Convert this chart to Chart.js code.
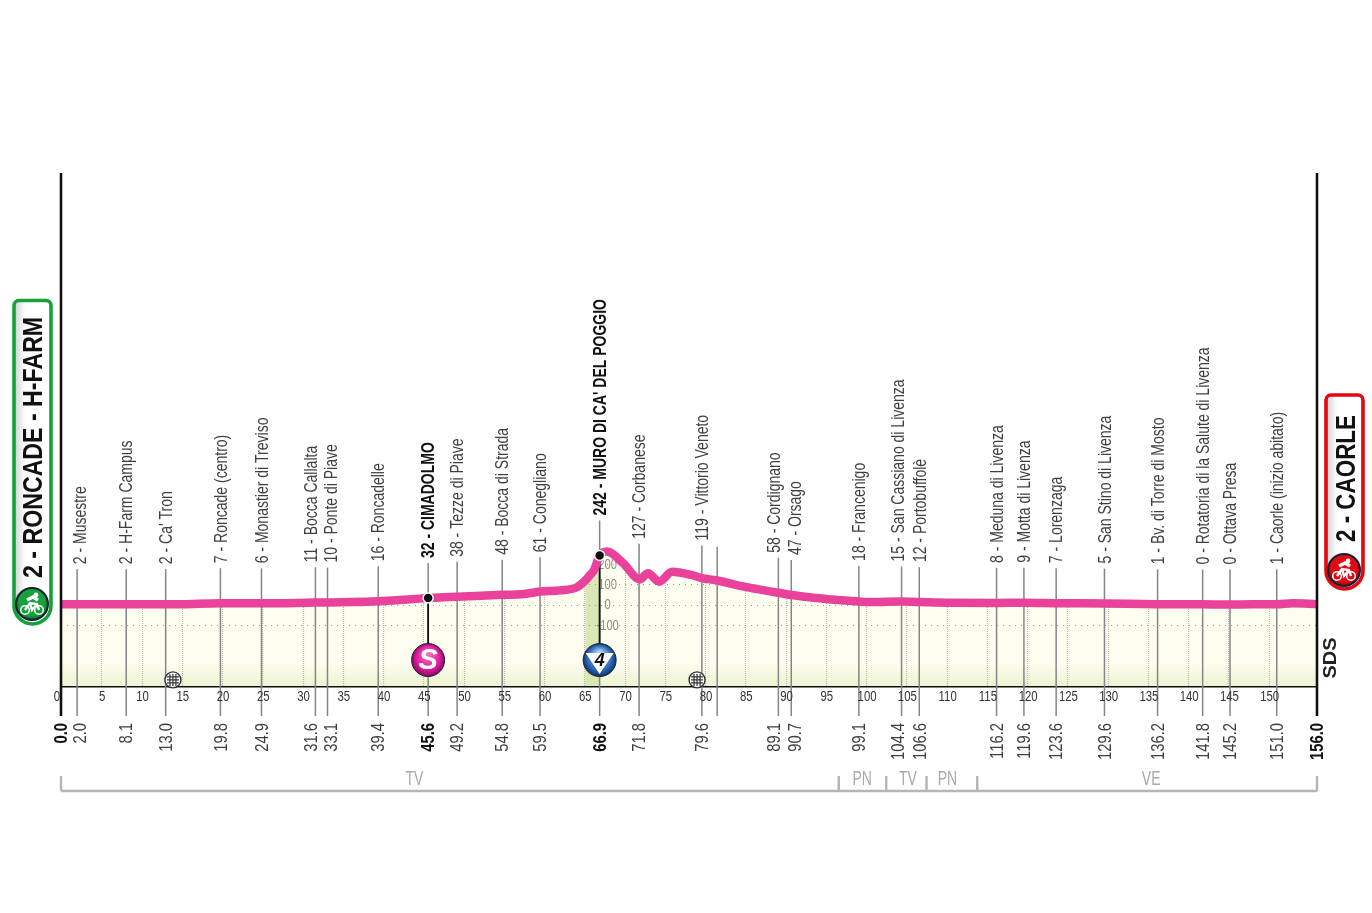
<!DOCTYPE html>
<html><head><meta charset="utf-8">
<style>html,body{margin:0;padding:0;background:#fff}canvas{display:block}</style>
<script src="https://cdn.jsdelivr.net/npm/chart.js@4/dist/chart.umd.min.js"></script>
</head><body><canvas id="c" width="1372" height="913"></canvas>
<script>
const profileKm=[0,5,10,15,19.8,25,31.6,36,39.4,43,45.6,47,49.2,54.8,57.5,59.5,62,64,65.1,65.7,66.2,66.9,67.8,69.8,71.9,72.9,74.3,75.9,78.3,79.6,81.4,83.9,86.5,89.1,90.7,93.9,96.5,99.1,101,102.5,104.4,106.6,110,116.2,119.6,123.6,129.6,136.2,141.8,145.2,148,151,153,155,156];
const profileAlt=[2,2,1,2,7,6,10,12,16,25,32,35,38,48,52,64,70,84,118,145,170,242,262,205,124,155,113,162,146,130,120,96,76,58,47,32,22,15,12,14,15,12,9,8,9,7,5,2,1,0,1,1,6,4,2];
const climbStartKm=65.1, climbEndKm=66.9;
const placeKm=[2.0,8.1,13.0,19.8,24.9,31.6,33.1,39.4,45.6,49.2,54.8,59.5,66.9,71.8,79.6,89.1,90.7,99.1,104.4,106.6,116.2,119.6,123.6,129.6,136.2,141.8,145.2,151.0];
const placeAlt=[2,2,2,7,6,11,10,16,32,38,48,61,242,127,119,58,47,18,15,12,8,9,7,5,1,0,0,1];
const placeNames=["Musestre","H-Farm Campus","Ca' Tron","Roncade (centro)","Monastier di Treviso","Bocca Callalta","Ponte di Piave","Roncadelle","CIMADOLMO","Tezze di Piave","Bocca di Strada","Conegliano","MURO DI CA' DEL POGGIO","Corbanese","Vittorio Veneto","Cordignano","Orsago","Francenigo","San Cassiano di Livenza","Portobuffolè","Meduna di Livenza","Motta di Livenza","Lorenzaga","San Stino di Livenza","Bv. di Torre di Mosto","Rotatoria di la Salute di Livenza","Ottava Presa","Caorle (inizio abitato)"];
const highlightedKm=[45.6,66.9];
const unlabelledKm=[81.5], unlabelledAlt=[113];
const endKm=[0,156];
const elevationTicks=[200,100,0,-100];
const feedKm=[13.9,79.0];
const regionBreaks=[0,96.6,102.5,107.5,113.8,156];
const regionNames=["TV","PN","TV","PN","VE"];
const regionLabelKm=[43.9,99.5,105.2,110.1,135.4];
const startTitle="2 - RONCADE - H-FARM", finishTitle="2 - CAORLE", logoText="SDS";

const WIDE='"Liberation Sans",Arial,sans-serif';
const nudge={2:3,31.6:-5,33.1:3,89.1:-5,90.7:4,104.4:-4};
const AX_EXT=30, LINE_RISE=35, MARK_ALT=-274, FEED_ALT=-372;

function vText(ctx,t,x,y,o){ctx.save();ctx.translate(x,y);ctx.rotate(-Math.PI/2);ctx.scale(o.sx||1,1);
  ctx.font=(o.bold?'bold ':'')+o.size+'px '+WIDE;ctx.fillStyle=o.color||'#333';ctx.textAlign=o.align||'left';ctx.textBaseline='middle';ctx.fillText(t,0,1);ctx.restore();}
function hText(ctx,t,x,y,size,sx,color){ctx.save();ctx.translate(x,y);ctx.scale(sx,1);ctx.font=size+'px '+WIDE;ctx.fillStyle=color;ctx.textAlign='center';ctx.textBaseline='middle';ctx.fillText(t,0,0);ctx.restore();}
function bike(ctx,cx,cy,col){ctx.save();ctx.translate(cx,cy);ctx.strokeStyle=col;ctx.fillStyle=col;ctx.lineWidth=1.6;
  [[-7,5],[7,5]].forEach(p=>{ctx.beginPath();ctx.arc(p[0],p[1],4.3,0,7);ctx.stroke();});
  ctx.lineWidth=2.4;ctx.beginPath();ctx.moveTo(-7,5);ctx.lineTo(-2,-2);ctx.lineTo(5,-1);ctx.lineTo(7,5);ctx.moveTo(-2,-2);ctx.lineTo(0,5);ctx.lineTo(5,-1);ctx.stroke();
  ctx.beginPath();ctx.moveTo(-5,-5);ctx.lineTo(1,-8);ctx.lineTo(6,-5);ctx.lineWidth=3.4;ctx.stroke();
  ctx.beginPath();ctx.arc(4,-10,2.4,0,7);ctx.fill();ctx.restore();}
function badge(ctx,x0,y0,x1,y1,col,dark,title,tx,ty,size,sx,ix,iy){
  const g=ctx.createLinearGradient(x0,0,x1,0);g.addColorStop(0,'#cfcfcf');g.addColorStop(.3,'#fff');g.addColorStop(1,'#fff');
  ctx.beginPath();ctx.roundRect(x0,y0,x1-x0,y1-y0,[5,5,(x1-x0)/2,(x1-x0)/2]);ctx.fillStyle=g;ctx.fill();ctx.lineWidth=3.6;ctx.strokeStyle=col;ctx.stroke();
  vText(ctx,title,tx,ty,{size,bold:true,color:'#111',sx});
  const r=ctx.createRadialGradient(ix,iy-6,2,ix,iy,17);r.addColorStop(0,col);r.addColorStop(.75,col);r.addColorStop(1,dark);
  ctx.beginPath();ctx.arc(ix,iy,16,0,7);ctx.fillStyle=r;ctx.fill();ctx.lineWidth=2;ctx.strokeStyle='#123';ctx.stroke();
  bike(ctx,ix,iy+1,'#fff');}

const underlay={id:'underlay',
 afterDatasetDraw(chart,args){ if(args.index!==1) return;
  const {ctx,scales:{x,y},chartArea:a}=chart;
  ctx.save();ctx.beginPath();ctx.moveTo(x.getPixelForValue(profileKm[0]),a.bottom);
  profileKm.forEach((k,i)=>ctx.lineTo(x.getPixelForValue(k),y.getPixelForValue(profileAlt[i])));
  ctx.lineTo(x.getPixelForValue(156),a.bottom);ctx.closePath();ctx.clip();
  ctx.setLineDash([1,1]);ctx.lineWidth=1.2;ctx.strokeStyle='rgba(160,160,145,.7)';
  x.ticks.forEach(t=>{if(t.value===0)return;const p=Math.round(x.getPixelForValue(t.value))+.5;ctx.beginPath();ctx.moveTo(p,a.top);ctx.lineTo(p,a.bottom);ctx.stroke();});
  ctx.setLineDash([1,5]);ctx.lineWidth=1.2;ctx.strokeStyle='#999';
  elevationTicks.forEach(v=>{const p=Math.round(y.getPixelForValue(v))+.5;ctx.beginPath();ctx.moveTo(a.left,p);ctx.lineTo(a.right,p);ctx.stroke();});
  ctx.setLineDash([]);ctx.restore();
  ctx.save();
  elevationTicks.forEach(v=>hText(ctx,String(v),x.getPixelForValue(66.9)+8,y.getPixelForValue(v)+1,14,.8,'#8d8d84'));
  const base=a.bottom+AX_EXT;
  const lines=placeKm.map((k,i)=>[k,placeAlt[i]]).concat(unlabelledKm.map((k,i)=>[k,unlabelledAlt[i]]));
  ctx.lineWidth=1.5;ctx.strokeStyle='#858585';
  lines.forEach(([k,al])=>{const p=x.getPixelForValue(k);ctx.beginPath();ctx.moveTo(p,y.getPixelForValue(al)-LINE_RISE);ctx.lineTo(p,base);ctx.stroke();});
  ctx.strokeStyle='#111';ctx.lineWidth=1.8;
  highlightedKm.forEach(k=>{const i=placeKm.indexOf(k),p=x.getPixelForValue(k);ctx.beginPath();ctx.moveTo(p,y.getPixelForValue(placeAlt[i]));ctx.lineTo(p,y.getPixelForValue(MARK_ALT));ctx.stroke();});
  ctx.restore();
 },
 afterDraw(chart){
  const {ctx,scales:{x,y},chartArea:a}=chart; const base=a.bottom+AX_EXT;
  ctx.save();
  ctx.strokeStyle='#111';ctx.lineWidth=2.6;
  endKm.forEach(k=>{const p=x.getPixelForValue(k);ctx.beginPath();ctx.moveTo(p,a.top);ctx.lineTo(p,base);ctx.stroke();});
  x.ticks.forEach(t=>hText(ctx,String(t.value),x.getPixelForValue(t.value)+(t.value===0?-4:1),a.bottom+11,15,.76,'#333'));
  placeNames.forEach((n,i)=>{const k=placeKm[i],al=placeAlt[i],px=x.getPixelForValue(k)+(nudge[k]||0),hi=highlightedKm.includes(k);
    vText(ctx,al+' - '+n,px,y.getPixelForValue(al)-LINE_RISE-5,{size:19,sx:.737,bold:hi,color:hi?'#111':'#3f3f3f'});
    vText(ctx,k.toFixed(1),px,a.bottom+37,{size:19,sx:.78,bold:hi,align:'right',color:hi?'#111':'#3f3f3f'});});
  endKm.forEach(k=>vText(ctx,k.toFixed(1),x.getPixelForValue(k),a.bottom+37,{size:19,sx:.78,bold:true,align:'right',color:'#111'}));
  const mk=(km,c0,c1,c2)=>{const p=x.getPixelForValue(km),q=y.getPixelForValue(MARK_ALT);
    const g=ctx.createRadialGradient(p,q-7,2,p,q,17);g.addColorStop(0,c0);g.addColorStop(.7,c1);g.addColorStop(1,c2);
    ctx.beginPath();ctx.arc(p,q,16.5,0,7);ctx.fillStyle=g;ctx.fill();ctx.lineWidth=1;ctx.strokeStyle='#222';ctx.stroke();return [p,q];};
  let [p,q]=mk(highlightedKm[0],'#f26bc0','#d8189a','#7d0a5c');
  ctx.font='italic bold 29px '+WIDE;ctx.textAlign='center';ctx.textBaseline='middle';ctx.fillStyle='#fff';ctx.fillText('S',p,q+1);
  [p,q]=mk(highlightedKm[1],'#a9d3f2','#2a66b4','#0d2f68');
  ctx.beginPath();ctx.moveTo(p-14,q-7);ctx.lineTo(p+14,q-7);ctx.lineTo(p,q+14);ctx.closePath();ctx.fillStyle='#fff';ctx.fill();
  ctx.font='italic bold 18px '+WIDE;ctx.fillStyle='#111';ctx.fillText('4',p,q+1);
  feedKm.forEach(k=>{const fx=x.getPixelForValue(k),fy=y.getPixelForValue(FEED_ALT);
    ctx.beginPath();ctx.arc(fx,fy,8,0,7);ctx.fillStyle='#fff';ctx.fill();ctx.lineWidth=1.4;ctx.strokeStyle='#333';ctx.stroke();
    ctx.lineWidth=1.2;ctx.beginPath();
    [-3,0,3].forEach(d=>{ctx.moveTo(fx+d,fy-6);ctx.lineTo(fx+d,fy+6);});
    [-3,0,3].forEach(d=>{ctx.moveTo(fx-6,fy+d);ctx.lineTo(fx+6,fy+d);});ctx.stroke();});
  const ry=a.bottom+105;ctx.strokeStyle='#b5b5b5';ctx.lineWidth=2.4;ctx.beginPath();
  ctx.moveTo(x.getPixelForValue(0),ry);ctx.lineTo(x.getPixelForValue(156),ry);
  regionBreaks.forEach(k=>{const b=x.getPixelForValue(k);ctx.moveTo(b,ry);ctx.lineTo(b,ry-15);});ctx.stroke();
  regionNames.forEach((n,i)=>hText(ctx,n,x.getPixelForValue(regionLabelKm[i]),ry-12,20,.7,'#a8a8a8'));
  vText(ctx,logoText,x.getPixelForValue(156)+13,a.bottom-28,{size:19,bold:true,color:'#222',align:'center',sx:1.05});
  badge(ctx,14,300.5,51,624,'#18a03c','#0a4d1c',startTitle,33,578,28,.827,32,604);
  badge(ctx,1326,395,1363,589,'#e30613','#7d0208',finishTitle,1346,542,28,.80,1344,570);
  ctx.restore();
 }};

const toXY=(xs,ys)=>xs.map((k,i)=>({x:k,y:ys[i]}));
const profile=toXY(profileKm,profileAlt);
const ctx0=document.getElementById('c').getContext('2d');
const fillG=ctx0.createLinearGradient(0,173,0,686);
fillG.addColorStop(0,'#fdfdf0');fillG.addColorStop(.955,'#fdfdf0');fillG.addColorStop(1,'#edf3d2');
new Chart(ctx0,{type:'line',
 data:{datasets:[
  {data:profile,order:3,borderWidth:0,pointRadius:0,backgroundColor:fillG,fill:{value:-402},cubicInterpolationMode:'monotone'},
  {data:profile.filter(p=>p.x>=climbStartKm&&p.x<=climbEndKm),order:2,borderWidth:0,borderColor:'rgba(0,0,0,0)',pointRadius:0,backgroundColor:'#d9e8b4',fill:{value:-402},cubicInterpolationMode:'monotone'},
  {data:profile,order:1,borderColor:'#e8429b',borderWidth:8.5,pointRadius:0,fill:false,cubicInterpolationMode:'monotone',borderCapStyle:'butt'},
  {data:highlightedKm.map(k=>({x:k,y:placeAlt[placeKm.indexOf(k)]})),order:0,showLine:false,pointRadius:5,pointBackgroundColor:'#111',pointBorderColor:'#fff',pointBorderWidth:1.5,clip:false}
 ]},
 options:{responsive:false,animation:false,
  layout:{padding:{left:61,right:55,top:173,bottom:197}},
  plugins:{legend:{display:false},tooltip:{enabled:false}},
  scales:{
   x:{type:'linear',min:0,max:156,
    afterBuildTicks:s=>{s.ticks=s.ticks.filter(t=>t.value%5===0);},
    afterFit:s=>{s.height=30;},
    grid:{display:false,drawTicks:false},border:{display:true,color:'#111',width:2.5},
    ticks:{stepSize:5,autoSkip:false,display:false}},
   y:{type:'linear',min:-402,max:2130,display:false}
  }},
 plugins:[underlay]});
</script></body></html>
